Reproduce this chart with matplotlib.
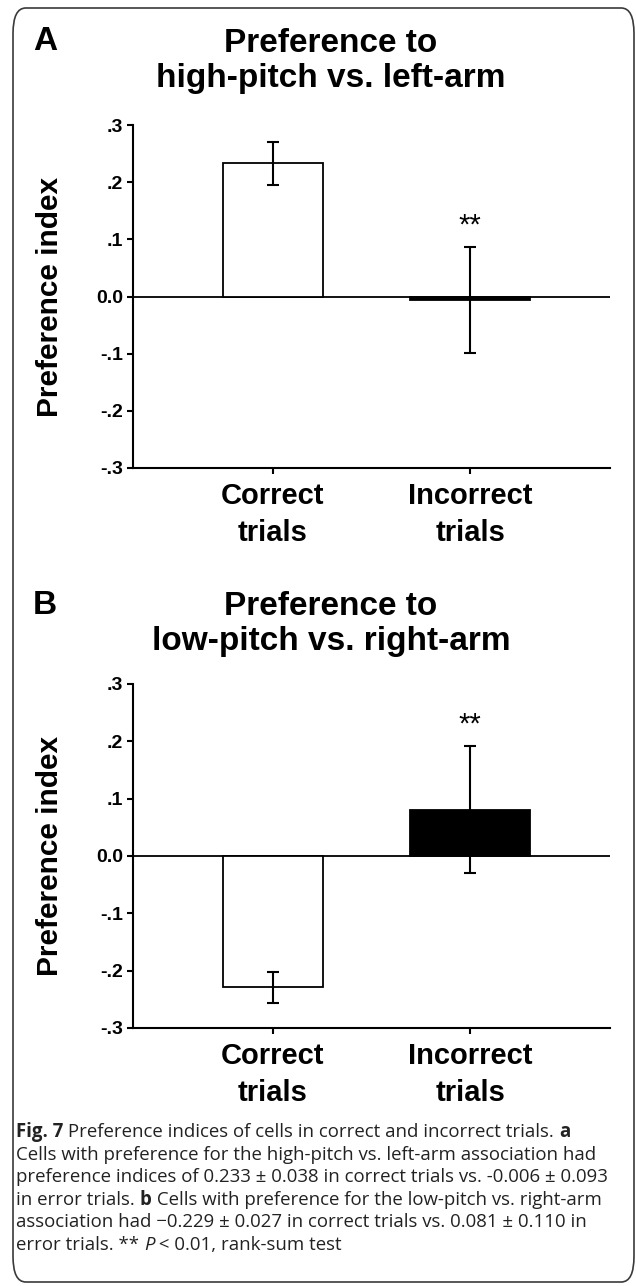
import matplotlib
matplotlib.use("Agg")
import matplotlib.pyplot as plt
from matplotlib.patches import FancyBboxPatch
import numpy as np

# data
categories = ["Correct\ntrials", "Incorrect\ntrials"]
titles = ["Preference to\nhigh-pitch vs. left-arm", "Preference to\nlow-pitch vs. right-arm"]
panel_letters = ["A", "B"]
means_a = [0.233, -0.006]
sems_a = [0.038, 0.093]
means_b = [-0.229, 0.081]
sems_b = [0.027, 0.110]
bar_colors = ["white", "black"]
bar_widths = [0.505, 0.606]
sig_marks = ["", "**"]
yticks = [-0.3, -0.2, -0.1, 0.0, 0.1, 0.2, 0.3]
ytick_labels = ["-.3", "-.2", "-.1", "0.0", ".1", ".2", ".3"]

W, H = 636, 1286
fig = plt.figure(figsize=(W / 100, H / 100), dpi=100)
fig.patch.set_facecolor("white")

bold_font = ["Liberation Sans"]


def px(x, y):
    return x / W, 1 - y / H


# frame around the whole figure
frame = FancyBboxPatch(px(13, 1282), (634 - 13) / W, (1282 - 8) / H,
                       boxstyle="round,pad=0,rounding_size=0.02",
                       transform=fig.transFigure, fill=False,
                       edgecolor="#3a3a3a", linewidth=1.2)
fig.patches.append(frame)

panels = [
    dict(means=means_a, sems=sems_a, top=125, bottom=468, title_y=42, lab_y=42),
    dict(means=means_b, sems=sems_b, top=684, bottom=1028, title_y=605, lab_y=605),
]

x = np.arange(len(categories))
for i, p in enumerate(panels):
    left, right = 133, 610
    ax = fig.add_axes([left / W, 1 - p["bottom"] / H, (right - left) / W,
                       (p["bottom"] - p["top"]) / H])
    ax.bar(x, p["means"], width=bar_widths, color=bar_colors,
           edgecolor="black", linewidth=1.3, zorder=2)
    ax.errorbar(x, p["means"], yerr=p["sems"], fmt="none", ecolor="black",
                elinewidth=1.5, capsize=4.5, capthick=1.5, zorder=3)
    ax.axhline(0, color="black", linewidth=1.3, zorder=1)
    for xi, m, s, mark in zip(x, p["means"], p["sems"], sig_marks):
        if mark:
            ax.text(xi, m + s + 0.013, mark, ha="center", va="bottom",
                    fontsize=21, family=bold_font)
    ax.set_xlim(-0.707, 1.707)
    ax.set_ylim(-0.3, 0.3)
    ax.set_yticks(yticks)
    ax.set_yticklabels(ytick_labels, fontsize=14, fontweight="bold",
                       family=bold_font)
    ax.set_xticks(x)
    ax.set_xticklabels(categories, fontsize=21, fontweight="bold",
                       family=bold_font, linespacing=1.4)
    ax.tick_params(axis="both", direction="out", length=4, width=1.5,
                   pad=3)
    ax.tick_params(axis="x", pad=6)
    for side in ["top", "right"]:
        ax.spines[side].set_visible(False)
    for side in ["left", "bottom"]:
        ax.spines[side].set_linewidth(1.5)
    ax.patch.set_visible(False)

    fig.text(*px(50, (p["top"] + p["bottom"]) / 2), "Preference index",
             rotation=90, ha="center", va="center", fontsize=21.5,
             fontweight="bold", family=bold_font)
    fig.text(*px(331, p["title_y"] + 19), titles[i], ha="center",
             va="center", fontsize=24, fontweight="bold", family=bold_font,
             linespacing=1.2)
    fig.text(*px(45, p["lab_y"]), panel_letters[i], ha="center",
             va="center", fontsize=24, fontweight="bold", family=bold_font)

# caption, drawn piece by piece so that parts can be bold or italic
caption = [
    [("Fig. 7", "bold", "normal"),
     (" Preference indices of cells in correct and incorrect trials. ", "normal", "normal"),
     ("a", "bold", "normal")],
    [("Cells with preference for the high-pitch vs. left-arm association had", "normal", "normal")],
    [("preference indices of 0.233 \u00b1 0.038 in correct trials vs. -0.006 \u00b1 0.093", "normal", "normal")],
    [("in error trials. ", "normal", "normal"), ("b", "bold", "normal"),
     (" Cells with preference for the low-pitch vs. right-arm", "normal", "normal")],
    [("association had \u22120.229 \u00b1 0.027 in correct trials vs. 0.081 \u00b1 0.110 in", "normal", "normal")],
    [("error trials. ** ", "normal", "normal"), ("P", "normal", "italic"),
     (" < 0.01, rank-sum test", "normal", "normal")],
]
cap_font = ["Open Sans", "DejaVu Sans"]
renderer = fig.canvas.get_renderer()
line_y = 1137
for line in caption:
    cx = 16 / W
    for txt, weight, style in line:
        t = fig.text(cx, 1 - line_y / H, txt, fontsize=13.4, fontweight=weight,
                     fontstyle=style, family=cap_font, color="#222222",
                     va="baseline", ha="left")
        bb = t.get_window_extent(renderer=renderer)
        cx = fig.transFigure.inverted().transform((bb.x1, bb.y0))[0]
    line_y += 22.6

fig.savefig("out.png", dpi=100)
